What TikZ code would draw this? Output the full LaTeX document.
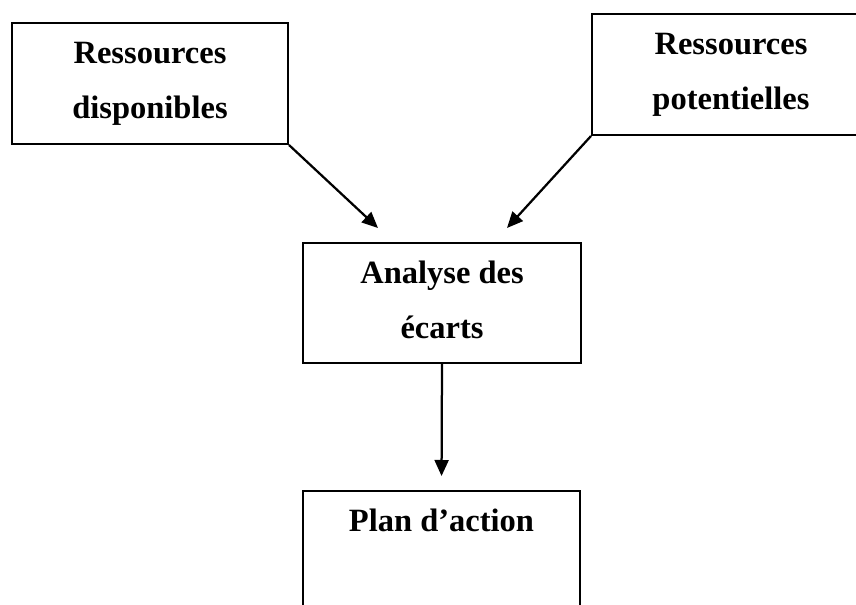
\documentclass[tikz,border=0pt]{standalone}
\usepackage{fontspec}
\setmainfont{Liberation Serif}
\usetikzlibrary{arrows.meta, positioning}

\begin{document}
\begin{tikzpicture}[x=0.4pt, y=-0.4pt,
  rbox/.style={rectangle, draw=black, line width=0.8pt, anchor=north,
               minimum width=#1, inner xsep=2pt, inner ysep=0pt,
               text height=38.2pt, text depth=10.2pt, align=center,
               font=\fontsize{13pt}{21.8pt}\selectfont\bfseries},
  arr/.style={-{Triangle[length=6.4pt, width=5.6pt]}, line width=0.9pt}
]
\useasboundingbox (0,0) rectangle (856,605);
\clip (0,0) rectangle (856,605);

%% Ressources
\node[rbox=110.4pt] (dispo) at (150,22) {Ressources\\disponibles};
\node[rbox=111.2pt] (poten) at (731,13) {Ressources\\potentielles};

%% Analyse
\node[rbox=111.2pt, text depth=9.8pt] (ecarts) at (442,242) {Analyse des\\écarts};

%% Plan d'action
\node[rbox=110.8pt, text height=16.4pt, text depth=45pt] (plan) at (441.5,490) {Plan d'action};

\coordinate (t1) at (378,228);
\coordinate (t2) at (507,228);

\draw[arr] (dispo.south east) -- (t1);
\draw[arr] (poten.south west) -- (t2);
\draw[arr, shorten >=5.6pt] (ecarts.south) -- (plan.north);

\end{tikzpicture}
\end{document}
